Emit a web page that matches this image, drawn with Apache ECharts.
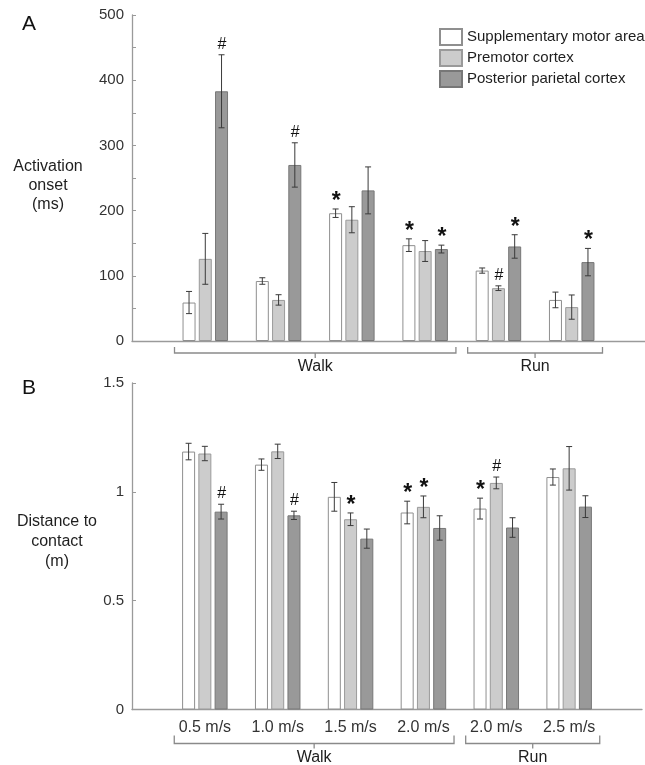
<!DOCTYPE html>
<html>
<head>
<meta charset="utf-8">
<script src="https://cdn.jsdelivr.net/npm/echarts@6/dist/echarts.min.js"></script>
<style>
  html, body { margin: 0; padding: 0; background: #fff; }
  #chart { width: 645px; height: 765px; }
</style>
</head>
<body>
<div id="chart"></div>
<script>
// Locomotion conditions (x categories) and the gait they belong to
const speeds = ['0.5 m/s', '1.0 m/s', '1.5 m/s', '2.0 m/s', '2.0 m/s', '2.5 m/s'];
const gaitLabels = ['Walk', 'Run'];
const gaitFirst = [0, 4];
const gaitLast = [3, 5];

// Cortical regions (series)
const regions = ['Supplementary motor area', 'Premotor cortex', 'Posterior parietal cortex'];

// Panel A: activation onset (ms), mean and error
const onsetSMA = [59, 92, 196, 147, 108, 63];
const onsetSMAErr = [17, 5, 6.5, 9.7, 4, 12];
const onsetPM = [126, 63, 186, 138, 81, 52];
const onsetPMErr = [39, 8, 20, 16, 3.6, 18.6];
const onsetPPC = [383, 270, 231, 141, 145, 121];
const onsetPPCErr = [56, 34, 36, 6, 18, 21];
const onsetSMAMark = ['', '', '*', '*', '', ''];
const onsetPMMark = ['', '', '', '', '#', ''];
const onsetPPCMark = ['#', '#', '', '*', '*', '*'];

// Panel B: distance to contact (m), mean and error
const distSMA = [1.185, 1.125, 0.977, 0.905, 0.923, 1.068];
const distSMAErr = [0.038, 0.026, 0.066, 0.052, 0.048, 0.037];
const distPM = [1.176, 1.186, 0.874, 0.931, 1.041, 1.108];
const distPMErr = [0.033, 0.033, 0.029, 0.05, 0.027, 0.1];
const distPPC = [0.909, 0.892, 0.785, 0.834, 0.836, 0.932];
const distPPCErr = [0.034, 0.019, 0.044, 0.056, 0.045, 0.05];
const distSMAMark = ['', '', '', '*', '*', ''];
const distPMMark = ['', '', '*', '*', '#', ''];
const distPPCMark = ['#', '#', '', '', '', ''];

// Y-axis settings
const onsetMax = 500, onsetStep = 50;
const distMax = 1.5, distStep = 0.5;

// ---- styling ----
const FONT = "'Liberation Sans', Arial, sans-serif";
const AXIS_COLOR = '#9a9a9a';
const TEXT_COLOR = '#1e1e1e';
const BAR_W = 13;
const BAR_GAP = 0.25;
const BAR_STEP = BAR_W * (1 + BAR_GAP);
const fills = ['#ffffff', '#cccccc', '#999999'];
const borders = ['#8f8f8f', '#9a9a9a', '#777777'];

// Empty slots at both ends leave space between the y axis and the first group
const axisCats = [''].concat(speeds, ['']);
const pad = arr => [null].concat(arr, [null]);

function barSeries(values, r, axisIdx) {
  return {
    type: 'bar',
    name: regions[r],
    xAxisIndex: axisIdx,
    yAxisIndex: axisIdx,
    data: pad(values),
    barWidth: BAR_W,
    barGap: (BAR_GAP * 100) + '%',
    itemStyle: { color: fills[r], borderColor: borders[r], borderWidth: 1 },
    emphasis: { disabled: true },
    animation: false,
    z: 2
  };
}

function errorSeries(means, errs, marks, axisIdx) {
  const items = [];
  for (let r = 0; r < 3; r++) {
    means[r].forEach((m, i) => {
      items.push({ cat: i + 1, r: r, lo: m - errs[r][i], hi: m + errs[r][i], mark: marks[r][i] });
    });
  }
  return {
    type: 'custom',
    xAxisIndex: axisIdx,
    yAxisIndex: axisIdx,
    clip: false,
    silent: true,
    animation: false,
    z: 5,
    data: items.map(it => [it.cat, it.hi]),
    renderItem: function (params, api) {
      const it = items[params.dataIndex];
      const pLo = api.coord([it.cat, it.lo]);
      const pHi = api.coord([it.cat, it.hi]);
      const x = pLo[0] + (it.r - 1) * BAR_STEP;
      const cap = 3;
      const ls = { stroke: '#3a3a3a', lineWidth: 1 };
      const children = [
        { type: 'line', shape: { x1: x, y1: pLo[1], x2: x, y2: pHi[1] }, style: ls },
        { type: 'line', shape: { x1: x - cap, y1: pHi[1], x2: x + cap, y2: pHi[1] }, style: ls },
        { type: 'line', shape: { x1: x - cap, y1: pLo[1], x2: x + cap, y2: pLo[1] }, style: ls }
      ];
      if (it.mark === '#') {
        children.push({ type: 'text', style: {
          text: '#', x: x + 0.5, y: pHi[1] - 2.5, align: 'center', verticalAlign: 'bottom',
          font: '16px ' + FONT, fill: '#111' } });
      } else if (it.mark === '*') {
        children.push({ type: 'text', style: {
          text: '*', x: x + 0.5, y: pHi[1] + 4, align: 'center', verticalAlign: 'bottom',
          font: 'bold 23px ' + FONT, fill: '#111' } });
      }
      return { type: 'group', children: children };
    }
  };
}

// Brackets under the x axis grouping the walking and running conditions
function gaitSeries(axisIdx, hookTop, lineY, textY) {
  return {
    type: 'custom',
    xAxisIndex: axisIdx,
    yAxisIndex: axisIdx,
    clip: false,
    silent: true,
    animation: false,
    z: 5,
    data: gaitFirst.map((f, i) => [f + 1, 0, gaitLast[i] + 1]),
    renderItem: function (params, api) {
      const i = params.dataIndex;
      const a = api.coord([gaitFirst[i] + 1, 0]);
      const b = api.coord([gaitLast[i] + 1, 0]);
      const band = api.coord([gaitFirst[i] + 2, 0])[0] - a[0];
      const x0 = a[0] - 0.42 * band;
      const x1 = b[0] + 0.42 * band;
      const xm = (x0 + x1) / 2;
      const y0 = a[1];
      const st = { stroke: '#8a8a8a', lineWidth: 1.3, fill: null };
      return { type: 'group', children: [
        { type: 'polyline', shape: { points: [[x0, y0 + hookTop], [x0, y0 + lineY], [x1, y0 + lineY], [x1, y0 + hookTop]] }, style: st },
        { type: 'line', shape: { x1: xm, y1: y0 + lineY, x2: xm, y2: y0 + lineY + 5 }, style: st },
        { type: 'text', style: { text: gaitLabels[i], x: xm, y: y0 + textY, align: 'center', verticalAlign: 'middle',
          font: '16px ' + FONT, fill: TEXT_COLOR } }
      ] };
    }
  };
}

function xAxis(gridIndex, showLabels) {
  return {
    type: 'category',
    gridIndex: gridIndex,
    data: axisCats,
    boundaryGap: false,
    axisLine: { lineStyle: { color: AXIS_COLOR, width: 1.3 } },
    axisTick: {
      inside: true, length: 4,
      interval: i => i > 0 && i < axisCats.length - 1,
      lineStyle: { color: AXIS_COLOR }
    },
    axisLabel: { show: showLabels, interval: 0, margin: 10, fontSize: 16, fontFamily: FONT, color: '#333' },
    splitLine: { show: false }
  };
}

function yAxis(gridIndex, max, step, fmt) {
  return {
    type: 'value',
    gridIndex: gridIndex,
    min: 0,
    max: max,
    interval: step,
    axisLine: { show: true, lineStyle: { color: AXIS_COLOR, width: 1.3 } },
    axisTick: { show: true, inside: true, length: 4, lineStyle: { color: AXIS_COLOR } },
    axisLabel: { margin: 8, fontSize: 15, fontFamily: FONT, color: '#333', formatter: fmt },
    splitLine: { show: false }
  };
}

const chart = echarts.init(document.getElementById('chart'), null, { renderer: 'canvas' });

chart.setOption({
  animation: false,
  backgroundColor: '#ffffff',
  textStyle: { fontFamily: FONT },
  grid: [
    { left: 132, right: -4, top: 15, height: 326 },
    { left: 132, right: -4, top: 383, height: 326.5 }
  ],
  legend: {
    data: regions,
    orient: 'vertical',
    left: 439,
    top: 28,
    padding: 0,
    itemWidth: 22,
    itemHeight: 16,
    itemGap: 3,
    icon: 'rect',
    selectedMode: false,
    textStyle: { fontSize: 15, fontFamily: FONT, color: TEXT_COLOR }
  },
  xAxis: [xAxis(0, false), xAxis(1, true)],
  yAxis: [
    yAxis(0, onsetMax, onsetStep, v => (v % 100 === 0 ? String(v) : '')),
    yAxis(1, distMax, distStep, v => String(v))
  ],
  graphic: [
    { type: 'text', left: 22, top: 14, style: { text: 'A', font: '21px ' + FONT, fill: '#111' } },
    { type: 'text', left: 22, top: 378, style: { text: 'B', font: '21px ' + FONT, fill: '#111' } },
    { type: 'text', x: 48, y: 186, style: { text: 'Activation\nonset\n(ms)', align: 'center', verticalAlign: 'middle',
      lineHeight: 19, font: '16px ' + FONT, fill: TEXT_COLOR } },
    { type: 'text', x: 57, y: 542, style: { text: 'Distance to\ncontact\n(m)', align: 'center', verticalAlign: 'middle',
      lineHeight: 20, font: '16px ' + FONT, fill: TEXT_COLOR } }
  ],
  series: [
    barSeries(onsetSMA, 0, 0),
    barSeries(onsetPM, 1, 0),
    barSeries(onsetPPC, 2, 0),
    barSeries(distSMA, 0, 1),
    barSeries(distPM, 1, 1),
    barSeries(distPPC, 2, 1),
    errorSeries([onsetSMA, onsetPM, onsetPPC], [onsetSMAErr, onsetPMErr, onsetPPCErr],
      [onsetSMAMark, onsetPMMark, onsetPPCMark], 0),
    errorSeries([distSMA, distPM, distPPC], [distSMAErr, distPMErr, distPPCErr],
      [distSMAMark, distPMMark, distPPCMark], 1),
    gaitSeries(0, 6, 12, 26),
    gaitSeries(1, 26, 34, 48)
  ]
});
</script>
</body>
</html>
